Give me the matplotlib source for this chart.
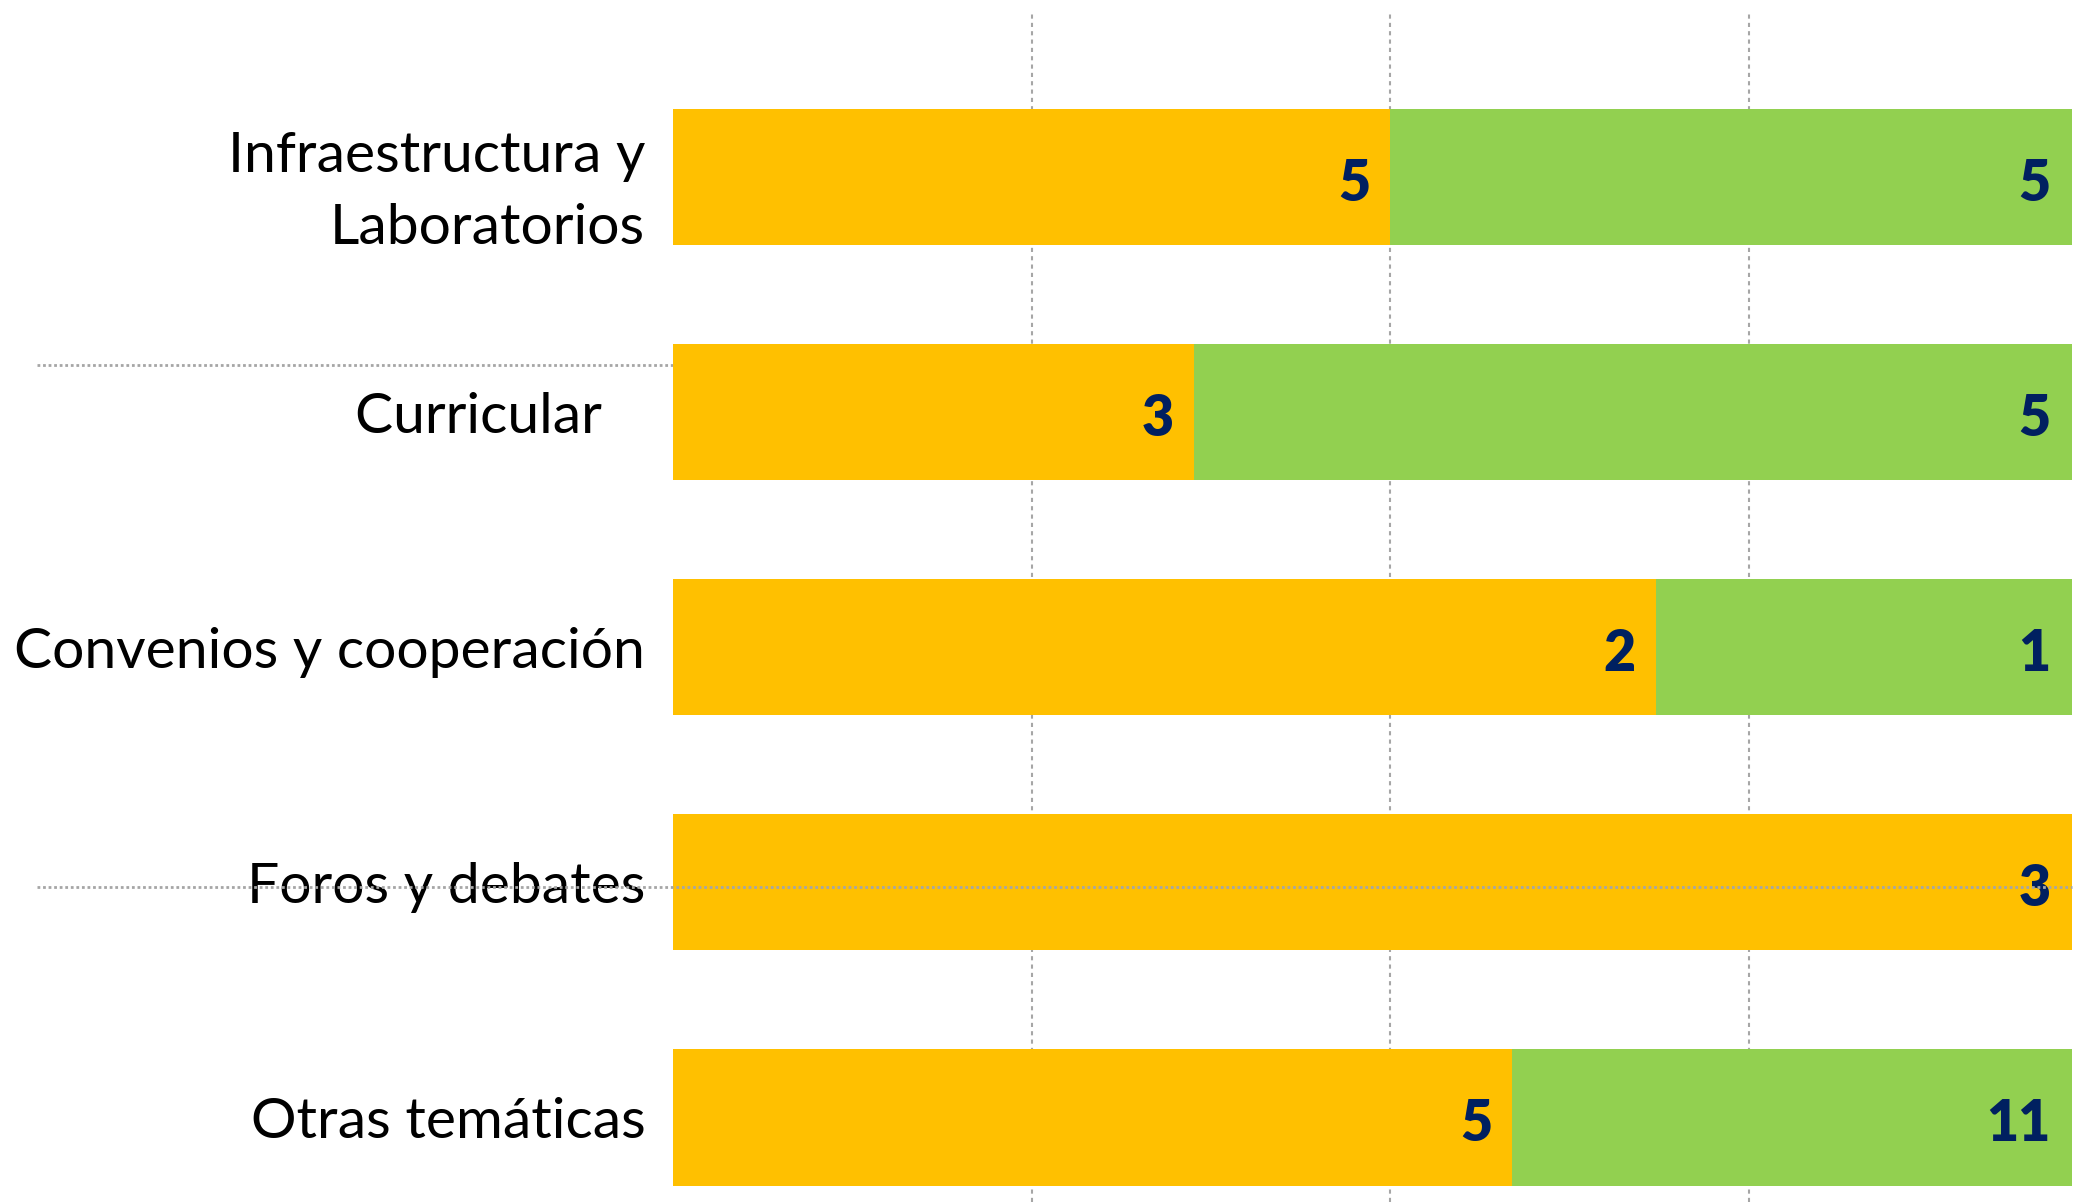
import numpy as np
import matplotlib
matplotlib.use('Agg')
import matplotlib.pyplot as plt

# data
categories = ['Infraestructura y\nLaboratorios', 'Curricular   ', 'Convenios y cooperación',
              'Foros y debates', 'Otras temáticas']
orange_share = [50.0, 36.3, 68.5, 100.0, 58.5]   # % of the bar
green_share = [50.0, 63.7, 31.5, 0.0, 41.5]
orange_labels = ['5', '3', '2', '3', '5']
green_labels = ['5', '5', '1', '', '11']

ORANGE = '#FFC000'
GREEN = '#92D050'
NAVY = '#002060'
GRID = '#a6a6a6'

plt.rcParams['font.family'] = ['Lato', 'DejaVu Sans']

fig = plt.figure(figsize=(20.85, 12.02), dpi=100)
ax = fig.add_axes([0.3228, 0.0, 0.671, 1.0])

y = np.arange(len(categories))
h = 0.58
ax.barh(y, orange_share, height=h, color=ORANGE, zorder=2)
ax.barh(y, green_share, left=orange_share, height=h, color=GREEN, zorder=2)

XMAX = 97.5
ax.set_xlim(0, XMAX)
ax.set_ylim(4.36, -0.753)

# value labels, right aligned at segment end
vkw = dict(ha='right', va='center', fontsize=40, fontweight='heavy', color=NAVY, zorder=4)
for i in range(len(categories)):
    if orange_share[i] < XMAX:
        ax.text(orange_share[i] - 1.4, y[i] + 0.03, orange_labels[i], **vkw)
    else:
        ax.text(XMAX - 1.5, y[i] + 0.03, orange_labels[i], **vkw)
    if green_labels[i]:
        ax.text(XMAX - 1.5, y[i] + 0.03, green_labels[i], **vkw)

# vertical dotted gridlines
for gx in [25, 50, 75]:
    ax.axvline(gx, ymin=0.0, ymax=0.99, color=GRID, ls=(0, (2, 2)), lw=1.5, zorder=1)

# horizontal dotted lines running into the label area
ax.plot([-44.3, 0], [0.80, 0.80], color=GRID, ls=(0, (1, 1)), lw=2, clip_on=False, zorder=1)
ax.plot([-44.3, XMAX], [3.02, 3.02], color=GRID, ls=(0, (1, 1)), lw=2, clip_on=False, zorder=5)

ax.set_yticks(y)
ax.set_yticklabels(categories, fontsize=41, color='black', linespacing=1.5)
ax.tick_params(axis='y', length=0, pad=20)
ax.set_xticks([])
for s in ax.spines.values():
    s.set_visible(False)

fig.savefig('out.png', dpi=100)
